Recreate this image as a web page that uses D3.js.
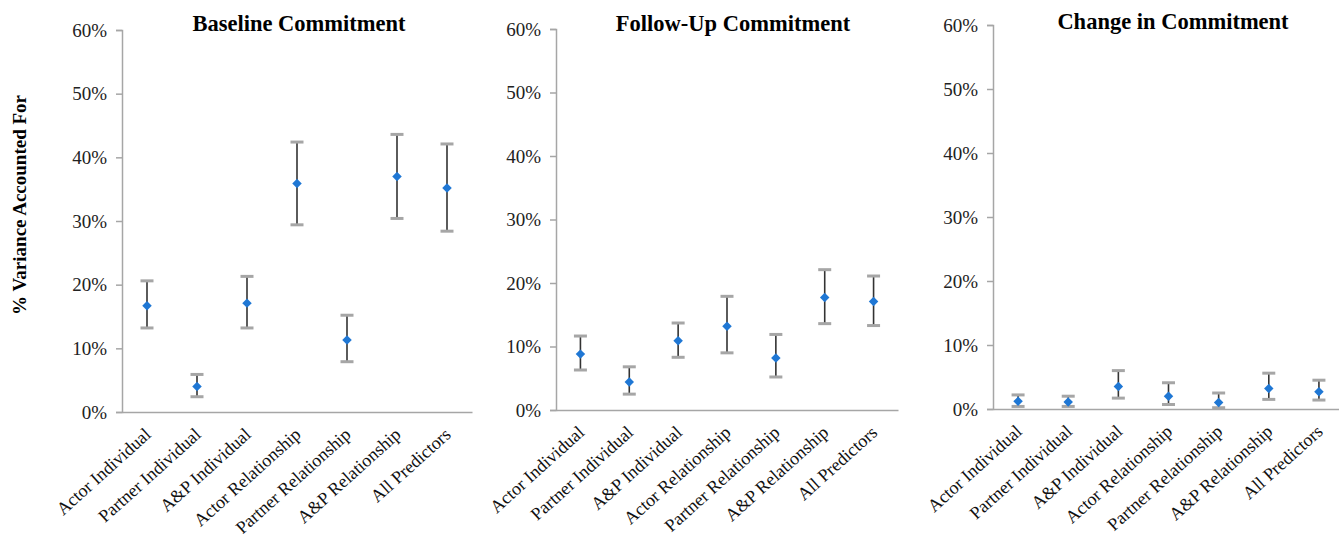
<!DOCTYPE html>
<html><head><meta charset="utf-8">
<script src="https://cdn.jsdelivr.net/npm/d3@7"></script>
<style>
html,body{margin:0;padding:0;background:#fff;}
svg{display:block;}
svg text{font-family:"Liberation Serif","Times New Roman",serif !important;}
</style></head>
<body><svg id="c" width="1339" height="534"></svg>
<script>
const categories = ["Actor Individual","Partner Individual","A&P Individual","Actor Relationship","Partner Relationship","A&P Relationship","All Predictors"];
const yTicks = [0,0.1,0.2,0.3,0.4,0.5,0.6];
const panelTitles = ["Baseline Commitment","Follow-Up Commitment","Change in Commitment"];
// point estimate, lower bound, upper bound (proportion)
const baselineValue = [0.167,0.040,0.171,0.359,0.113,0.370,0.352];
const baselineLow   = [0.132,0.024,0.132,0.294,0.079,0.304,0.284];
const baselineHigh  = [0.206,0.059,0.213,0.424,0.152,0.436,0.421];
const followValue = [0.088,0.044,0.109,0.132,0.082,0.177,0.171];
const followLow   = [0.063,0.025,0.083,0.090,0.052,0.136,0.133];
const followHigh  = [0.1165,0.068,0.137,0.179,0.119,0.221,0.211];
const changeValue = [0.012,0.011,0.035,0.020,0.010,0.032,0.027];
const changeLow   = [0.004,0.004,0.017,0.007,0.002,0.015,0.014];
const changeHigh  = [0.022,0.020,0.060,0.041,0.025,0.056,0.045];

const panels = [
  {title:panelTitles[0], v:baselineValue, lo:baselineLow, hi:baselineHigh, left:122, width:350, y0:412, yTop:30, titleX:299, titleY:31},
  {title:panelTitles[1], v:followValue, lo:followLow, hi:followHigh, left:556, width:342, y0:410, yTop:29, titleX:733, titleY:31},
  {title:panelTitles[2], v:changeValue, lo:changeLow, hi:changeHigh, left:993, width:351, y0:409, yTop:25, titleX:1173, titleY:29}
];

const svg = d3.select("#c");
const axisColor = "#a6a6a6";
const SERIF = "'Liberation Serif','Times New Roman',serif";

const diamond = {
  draw(ctx, size) {
    const h = Math.sqrt(size) / 2;
    ctx.moveTo(0, -h); ctx.lineTo(h, 0); ctx.lineTo(0, h); ctx.lineTo(-h, 0); ctx.closePath();
  }
};

svg.append("text")
  .attr("transform","translate(26,205) rotate(-90)")
  .attr("text-anchor","middle")
  .style("font-family",SERIF)
  .attr("font-size",19).attr("font-weight","bold").attr("fill","#000")
  .text("% Variance Accounted For");

panels.forEach(p => {
  const g = svg.append("g");
  const x = d3.scaleBand().domain(categories).range([p.left, p.left+p.width]);
  const y = d3.scaleLinear().domain([0,0.6]).range([p.y0, p.yTop]);

  g.append("text").attr("x", p.titleX).attr("y", p.titleY)
    .attr("text-anchor","middle").attr("font-size",22.5).attr("font-weight","bold")
    .style("font-family",SERIF)
    .attr("fill","#000").text(p.title);

  const ya = g.append("g").attr("transform",`translate(${p.left},0)`)
    .call(d3.axisLeft(y).tickValues(yTicks).tickFormat(d3.format(".0%")).tickSize(6).tickPadding(9));
  ya.attr("font-family",null);
  ya.select(".domain").attr("stroke",axisColor).attr("stroke-width",1.5);
  ya.selectAll(".tick line").attr("stroke",axisColor).attr("stroke-width",1.5);
  ya.selectAll(".tick text").attr("font-size",19).attr("fill","#222")
    .style("font-family",SERIF);

  const xa = g.append("g").attr("transform",`translate(0,${p.y0})`)
    .call(d3.axisBottom(x).tickSize(0).tickPadding(0));
  xa.attr("font-family",null);
  xa.select(".domain").attr("stroke",axisColor).attr("stroke-width",1.5);
  xa.selectAll(".tick text")
    .attr("font-size",18).attr("fill","#111").style("font-family",SERIF)
    .attr("text-anchor","end").attr("dy",null).attr("y",null)
    .attr("transform","translate(5,24) rotate(-42)");

  const idx = d3.range(categories.length);
  const cx = i => x(categories[i]) + x.bandwidth()/2;
  g.selectAll(".stem").data(idx).join("line")
    .attr("x1",cx).attr("x2",cx)
    .attr("y1",i=>y(p.hi[i])).attr("y2",i=>y(p.lo[i]))
    .attr("stroke","#333").attr("stroke-width",1.6);
  ["hi","lo"].forEach(k => {
    g.selectAll(".cap"+k).data(idx).join("line")
      .attr("x1",i=>cx(i)-6.5).attr("x2",i=>cx(i)+6.5)
      .attr("y1",i=>y(p[k][i])).attr("y2",i=>y(p[k][i]))
      .attr("stroke","#a6a6a6").attr("stroke-width",3);
  });
  g.selectAll(".pt").data(idx).join("path")
    .attr("d", d3.symbol().type(diamond).size(90))
    .attr("transform", i=>`translate(${cx(i)},${y(p.v[i])})`)
    .attr("fill","#1f77d4");
});
</script></body></html>
